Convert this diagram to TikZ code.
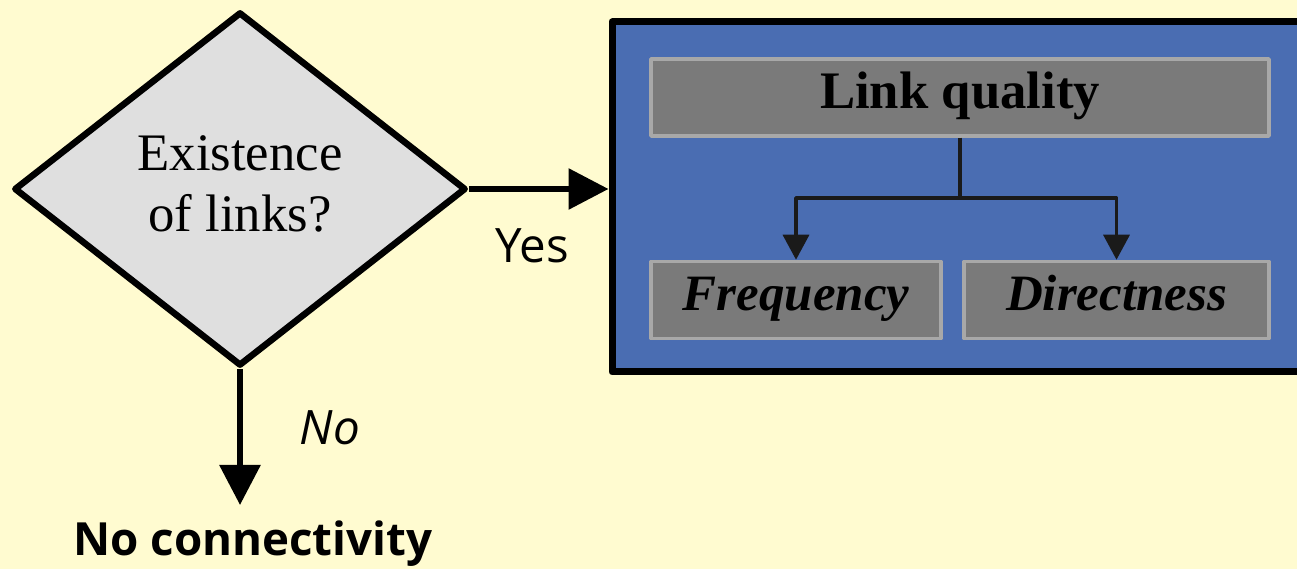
\documentclass[tikz,border=0pt]{standalone}
\usepackage{fontspec}
\setmainfont{Liberation Serif}
\setsansfont{Open Sans}
\usetikzlibrary{arrows.meta,shapes.geometric,calc}
\definecolor{paper}{HTML}{FFFBD0}
\definecolor{panelblue}{HTML}{4A6DB2}
\definecolor{boxgray}{HTML}{7A7A7A}
\definecolor{boxedge}{HTML}{A8A8A8}
\definecolor{wire}{HTML}{1A1A1A}

\begin{document}
\begin{tikzpicture}[line join=round,
  bigarrow/.style={line width=0.06cm,-{Triangle[length=0.4cm,width=0.4cm]}},
  smallarrow/.style={line width=0.035cm,draw=wire,-{Triangle[length=0.25cm,width=0.26cm]}},
  graybox/.style={draw=boxedge,line width=0.035cm,fill=boxgray,inner sep=0pt,minimum height=0.77cm,text height=0.34cm,text depth=0.12cm},
  label/.style={font=\sffamily\fontsize{13.5}{16}\selectfont}]
% --- page
\useasboundingbox (0,0) rectangle (12.97,5.69);
\fill[paper] (0,0) rectangle (12.97,5.69);
% --- decision
\node[diamond,draw,line width=0.065cm,fill=gray!25,inner sep=0pt,minimum width=4.52cm,minimum height=3.54cm] (q) at (2.40,3.80) {};
\node[align=center,font=\fontsize{15}{17.6}\selectfont] (qtext) at ($(q.center)+(0,0.05)$) {Existence\\of links?};
% --- link quality panel
\node[draw,line width=0.07cm,fill=panelblue,minimum width=7.18cm,minimum height=3.5cm,inner sep=0pt] (panel) at (9.71,3.72) {};
\node[graybox,minimum width=6.18cm,font=\bfseries\fontsize{15}{17}\selectfont] (lq) at (9.60,4.715) {Link quality};
\node[graybox,minimum width=2.90cm,font=\bfseries\itshape\fontsize{14.5}{17}\selectfont] (freq) at (7.96,2.69) {Frequency};
\node[graybox,minimum width=3.05cm,font=\bfseries\itshape\fontsize{14.5}{17}\selectfont] (dir) at (11.165,2.69) {Directness};
\coordinate (fork) at (lq.south |- 0,3.71);
\draw[line width=0.035cm,draw=wire] (lq.south) -- (fork);
\draw[smallarrow] (fork) -| (freq.north);
\draw[smallarrow] (fork) -| (dir.north);
% --- branches
\draw[bigarrow] (q.east) -- (q.east -| panel.west) node[label,pos=0.45,below=0.25cm] (yes) {Yes};
\coordinate (noend) at (2.40,0.64);
\draw[bigarrow] (q.south) -- (noend);
\node[label,font=\sffamily\itshape\fontsize{13.5}{16}\selectfont] (no) at (3.30,1.41) {No};
\node[font=\sffamily\bfseries\fontsize{13}{16}\selectfont] (nc) at (2.53,0.25) {No connectivity};
\end{tikzpicture}
\end{document}
